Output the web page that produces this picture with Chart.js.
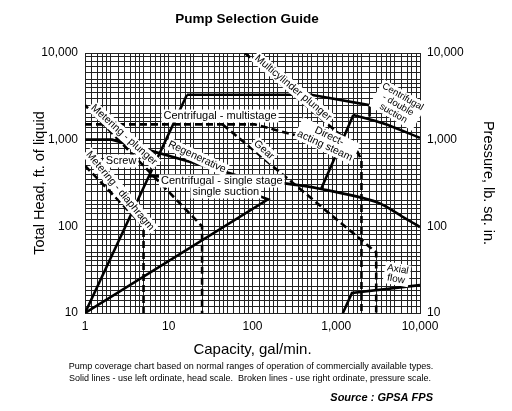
<!DOCTYPE html>
<html>
<head>
<meta charset="utf-8">
<script src="https://cdn.jsdelivr.net/npm/chart.js@4.4.1/dist/chart.umd.min.js"></script>
<style>
  html, body { margin: 0; padding: 0; background: #fff; }
  #chart { display: block; }
</style>
</head>
<body>
<canvas id="chart" width="512" height="411"></canvas>
<script>
// capacity (gal/min), head (ft) for solid lines, pressure (psi) for broken lines
const xTickLabels = { 1: '1', 10: '10', 100: '100', 1000: '1,000', 10000: '10,000' };
const yTickLabels = { 10: '10', 100: '100', 1000: '1,000', 10000: '10,000' };
const gridSteps = [1, 1.2, 1.4, 1.6, 1.8, 2, 2.5, 3, 3.5, 4, 4.5, 5, 6, 7, 8, 9];

// solid lines - head scale
const centrifugalSteep = [[1, 10], [16.5, 3300]];
const multistageTop = [[16.5, 3300], [500, 3300], [2500, 2500], [2500, 1850]];
const doubleSuctionBottom = [[1600, 1930], [3600, 1550], [10000, 1050]];
const doubleSuctionSide = [[1600, 1930], [660, 270]];
const singleStageTop = [[5.8, 380], [54, 360], [230, 315], [660, 270], [3070, 190], [6300, 128], [10000, 98]];
const singleSuction = [[1, 10], [153, 205], [90, 248]];
const regenerative = [[1, 1000], [2.1, 1000], [54, 410], [80, 362]];
const axialFlow = [[1200, 10], [1540, 17], [10000, 21]];

// broken lines - pressure scale
const meteringPlunger = [[1, 2500], [25, 100], [25, 10]];
const meteringDiaphragm = [[1, 500], [5, 100], [5, 10]];
const directActing = [[1, 1500], [107, 1500], [1800, 720], [2000, 580], [2000, 10]];
const gear = [[44, 1500], [3000, 50], [3000, 10]];
const multicylinder = [[81, 10000], [1460, 910], [1800, 720]];

// region labels: text lines, capacity, head, angle
const regionLabels = [
  { text: ['Multicylinder plunger'], x: 305, y: 3950, angle: 40, size: 10.5 },
  { text: ['Centrifugal', '- double', 'suction'], x: 5460, y: 2510, angle: 30, size: 9.5 },
  { text: ['Direct-', 'acting steam'], x: 776, y: 966, angle: 25, size: 10.5 },
  { text: ['Centrifugal - multistage'], x: 41, y: 1875, angle: 0, size: 11 },
  { text: ['Gear'], x: 137, y: 760, angle: 42, size: 10.5 },
  { text: ['Regenerative'], x: 21.7, y: 631, angle: 25, size: 10.5 },
  { text: ['Centrifugal - single stage'], x: 43, y: 333, angle: 0, size: 11 },
  { text: ['single suction'], x: 48, y: 249, angle: 0, size: 11 },
  { text: ['Screw'], x: 2.7, y: 567, angle: 0, size: 11 },
  { text: ['Metering - plunger'], x: 2.92, y: 1133, angle: 42, size: 10.5 },
  { text: ['Metering - diaphragm'], x: 2.62, y: 256, angle: 50, size: 10.5 },
  { text: ['Axial', 'flow'], x: 5310, y: 28, angle: 10, size: 10 }
];

const FONT = '"Liberation Sans", Arial, Helvetica, sans-serif';

function pts(arr) { return arr.map(p => ({ x: p[0], y: p[1] })); }

function line(arr, dashed, tension) {
  return {
    data: pts(arr),
    yAxisID: dashed ? 'y2' : 'y',
    borderColor: '#000',
    borderWidth: 2.6,
    borderDash: dashed ? [7, 4] : [],
    pointRadius: 0,
    tension: tension || 0,
    fill: false
  };
}

function logTicks(min, max) {
  const out = [];
  for (let d = min; d < max; d *= 10) {
    gridSteps.forEach(m => out.push({ value: m * d }));
  }
  out.push({ value: max });
  return out;
}

const textPlugin = {
  id: 'texts',
  afterDatasetsDraw(chart) {
    const ctx = chart.ctx;
    const xs = chart.scales.x, ys = chart.scales.y;
    regionLabels.forEach(l => {
      const px = xs.getPixelForValue(l.x), py = ys.getPixelForValue(l.y);
      ctx.save();
      ctx.translate(px, py);
      ctx.rotate(l.angle * Math.PI / 180);
      ctx.font = l.size + 'px ' + FONT;
      const lh = l.size * 1.0;
      const w = Math.max(...l.text.map(t => ctx.measureText(t).width));
      const h = lh * l.text.length;
      ctx.fillStyle = '#fff';
      ctx.fillRect(-w / 2 - 2, -h / 2 - 1, w + 4, h + 2);
      ctx.fillStyle = '#000';
      ctx.textAlign = 'center';
      ctx.textBaseline = 'middle';
      l.text.forEach((t, i) => ctx.fillText(t, 0, -h / 2 + lh * (i + 0.5)));
      ctx.restore();
    });
  },
  afterDraw(chart) {
    const ctx = chart.ctx;
    const a = chart.chartArea;
    ctx.save();
    ctx.fillStyle = '#000';
    ctx.textAlign = 'center';
    ctx.textBaseline = 'middle';
    ctx.font = 'bold 13.5px ' + FONT;
    ctx.fillText('Pump Selection Guide', 247, 19);
    ctx.font = '15px ' + FONT;
    ctx.fillText('Capacity, gal/min.', (a.left + a.right) / 2, 350);
    ctx.font = '9px ' + FONT;
    ctx.fillText('Pump coverage chart based on normal ranges of operation of commercially available types.', 251, 367);
    ctx.fillText('Solid lines - use left ordinate, head scale.  Broken lines - use right ordinate, pressure scale.', 250, 379);
    ctx.font = 'italic bold 11px ' + FONT;
    ctx.textAlign = 'right';
    ctx.fillText('Source : GPSA FPS', 433, 398);
    ctx.textAlign = 'center';
    ctx.font = '14.5px ' + FONT;
    ctx.save();
    ctx.translate(40, (a.top + a.bottom) / 2);
    ctx.rotate(-Math.PI / 2);
    ctx.fillText('Total Head, ft. of liquid', 0, 0);
    ctx.restore();
    ctx.save();
    ctx.translate(488, (a.top + a.bottom) / 2);
    ctx.rotate(Math.PI / 2);
    ctx.fillText('Pressure, lb. sq. in.', 0, 0);
    ctx.restore();
    ctx.restore();
  }
};

const gridOpts = { color: '#222', lineWidth: 1, drawTicks: false };

new Chart(document.getElementById('chart'), {
  type: 'line',
  data: {
    datasets: [
      line(centrifugalSteep), line(multistageTop), line(doubleSuctionBottom, false, 0.3),
      line(doubleSuctionSide), line(singleStageTop, false, 0.3), line(singleSuction),
      line(regenerative), line(axialFlow),
      line(meteringPlunger, true), line(meteringDiaphragm, true), line(directActing, true),
      line(gear, true), line(multicylinder, true)
    ]
  },
  options: {
    responsive: false,
    animation: false,
    devicePixelRatio: 1,
    layout: { padding: { top: 53, left: 0, right: 0, bottom: 0 } },
    plugins: { legend: { display: false }, tooltip: { enabled: false }, title: { display: false } },
    scales: {
      x: {
        type: 'logarithmic', min: 1, max: 10000,
        afterBuildTicks: s => { s.ticks = logTicks(1, 10000); },
        afterFit: s => { s.height = 98; },
        grid: gridOpts,
        border: { color: '#222', width: 1 },
        ticks: {
          autoSkip: false, maxRotation: 0, padding: 6, color: '#000',
          font: { size: 12, family: FONT },
          callback: v => xTickLabels[v] || ''
        }
      },
      y: {
        type: 'logarithmic', position: 'left', min: 10, max: 10000,
        afterBuildTicks: s => { s.ticks = logTicks(10, 10000); },
        afterFit: s => { s.width = 85; },
        grid: gridOpts,
        border: { color: '#222', width: 1 },
        ticks: {
          autoSkip: false, padding: 7, color: '#000',
          font: { size: 12, family: FONT },
          callback: v => yTickLabels[v] || ''
        }
      },
      y2: {
        type: 'logarithmic', position: 'right', min: 10, max: 10000,
        afterBuildTicks: s => { s.ticks = logTicks(10, 10000); },
        afterFit: s => { s.width = 92; },
        grid: { display: false, drawTicks: false },
        border: { color: '#222', width: 1 },
        ticks: {
          autoSkip: false, padding: 7, color: '#000',
          font: { size: 12, family: FONT },
          callback: v => yTickLabels[v] || ''
        }
      }
    }
  },
  plugins: [textPlugin]
});
</script>
</body>
</html>
